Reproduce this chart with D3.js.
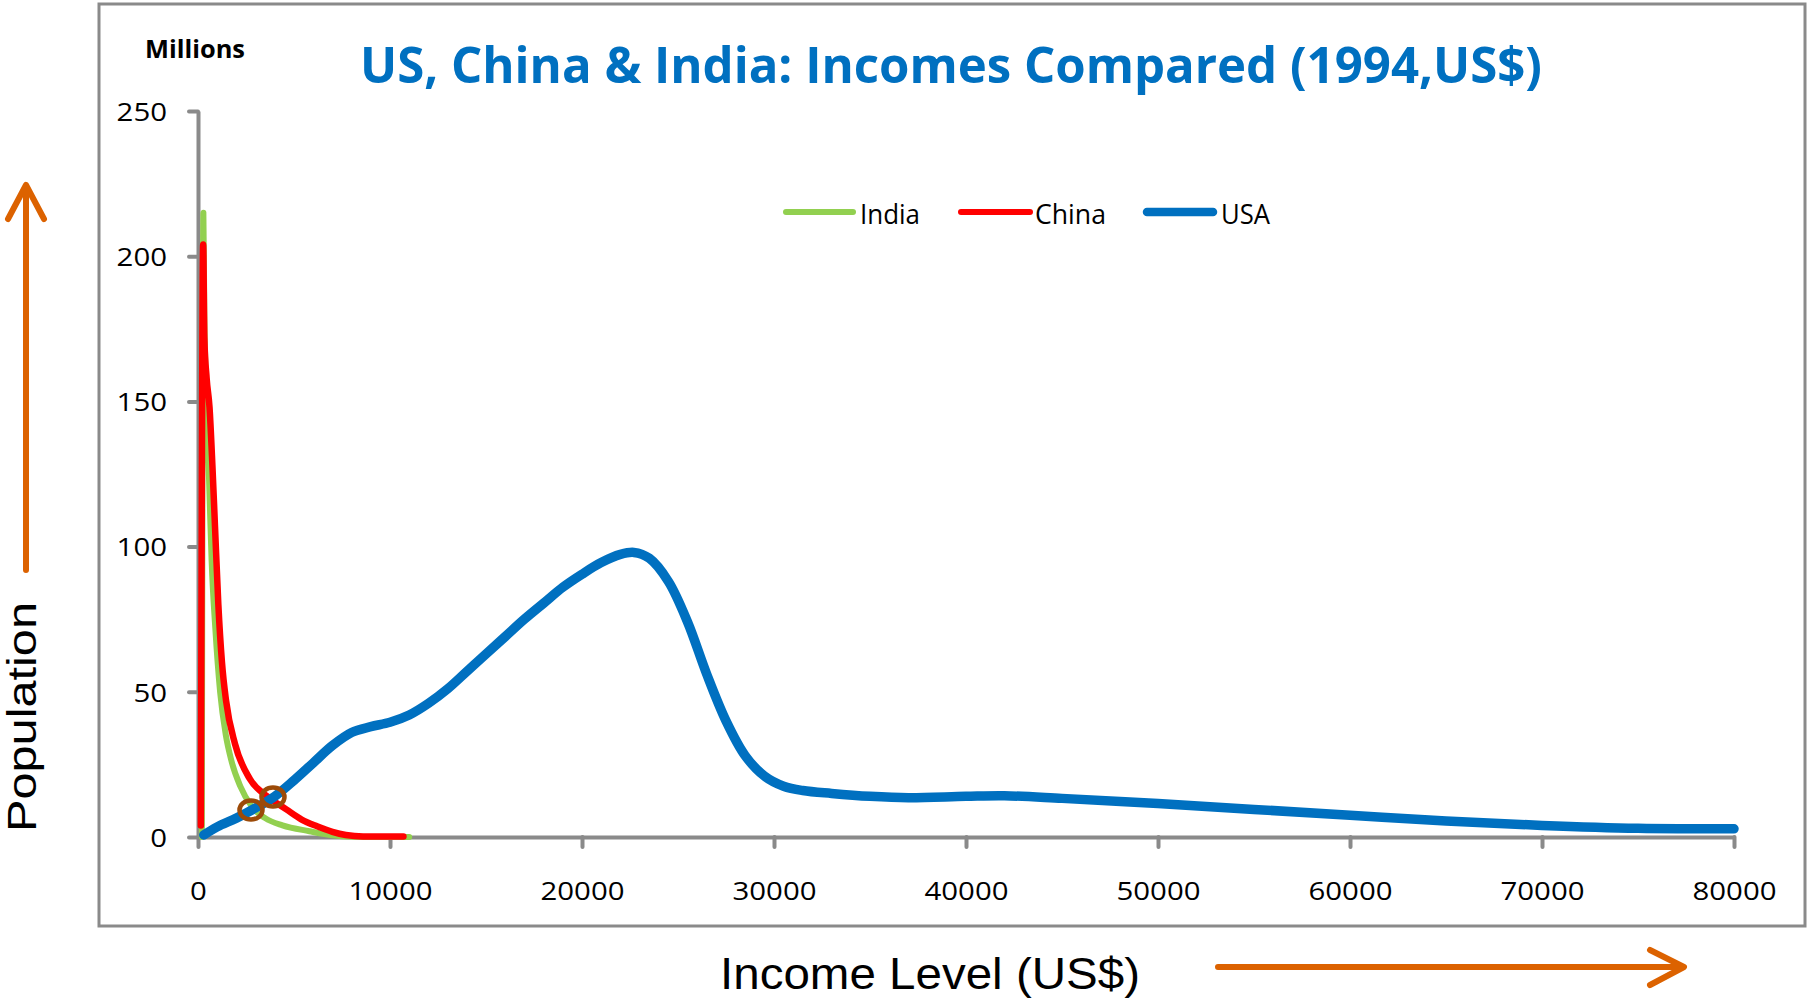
<!DOCTYPE html>
<html>
<head>
<meta charset="utf-8">
<script src="https://cdn.jsdelivr.net/npm/d3@7"></script>
<style>
  html, body { margin: 0; padding: 0; background: #ffffff; }
  svg { display: block; }
</style>
</head>
<body>
<svg id="chart" width="1807" height="1002"></svg>
<script>
// Income distribution curves: [income US$, population in millions]
const india = [[200,0],[280,215],[330,180],[450,150],[600,118],[710,95],[900,72],[1150,50],[1450,35],[1750,26],[2200,17.5],[2800,10.5],[3500,6.5],[4400,4],[5800,2],[7000,0.6],[8000,0.1],[9500,0],[11000,0]];
const china = [[150,4],[270,204],[330,172],[450,158],[600,148],[750,128],[885,107],[1060,80],[1250,60],[1460,47],[1930,32],[2700,20],[3600,14],[4600,9.5],[5400,6],[6200,3.7],[7000,1.8],[7700,0.7],[8600,0.2],[10700,0.2]];
const usa = [[300,0.7],[1000,3.5],[2000,6.5],[3000,10],[4000,14],[5000,19.5],[6000,25.5],[7000,31.5],[8000,36],[9000,38],[10000,39.5],[11000,42],[12000,46],[13000,51],[14000,57],[15000,63],[16000,69],[17000,75],[18000,80.5],[19000,86],[20000,90.5],[21000,94.5],[22000,97.3],[22700,98],[23500,96],[24500,88],[25500,74],[26500,56],[27500,40],[28500,28],[29500,21],[30500,17.5],[31500,16],[33000,15],[35000,14],[37000,13.5],[40000,14],[42000,14.2],[45000,13.3],[50000,11.5],[55000,9.5],[60000,7.5],[65000,5.5],[70000,4],[75000,3],[80000,2.8]];

// Crossing points highlighted with rings
const crossings = [[2760, 9.3], [3906, 13.8]];

const seriesNames = ["India", "China", "USA"];
const seriesColors = ["#92D050", "#FF0000", "#0070C0"];
const xTicks = [0, 10000, 20000, 30000, 40000, 50000, 60000, 70000, 80000];
const yTicks = [0, 50, 100, 150, 200, 250];

const titleText = "US, China & India: Incomes Compared (1994,US$)";
const unitText = "Millions";
const xAxisTitle = "Income Level (US$)";
const yAxisTitle = "Population";

const svg = d3.select("#chart");
const axisGray = "#8a8a8a";
const orange = "#DC6200";
const tickFont = "'Open Sans', 'Noto Sans', sans-serif";

const x = d3.scaleLinear().domain([0, 80000]).range([198, 1734]);
const y = d3.scaleLinear().domain([0, 250]).range([837, 111]);

// stretch text horizontally to a set width
function fitWidth(sel, w) {
  sel.attr("textLength", w).attr("lengthAdjust", "spacingAndGlyphs");
}
function widen(sel, k) {
  sel.each(function () {
    const len = this.getComputedTextLength();
    d3.select(this).attr("textLength", len * k).attr("lengthAdjust", "spacingAndGlyphs");
  });
}

// outer frame
svg.append("rect")
  .attr("x", 99).attr("y", 4).attr("width", 1706).attr("height", 922)
  .attr("fill", "none").attr("stroke", axisGray).attr("stroke-width", 3);

// y axis
const gy = svg.append("g").attr("transform", `translate(${x(0)},0)`)
  .call(d3.axisLeft(y).tickValues(yTicks).tickSize(9).tickSizeOuter(0).tickPadding(22));
gy.select(".domain").attr("stroke", axisGray).attr("stroke-width", 4);
gy.selectAll(".tick line").attr("stroke", axisGray).attr("stroke-width", 4).attr("stroke-linecap", "round");
gy.selectAll(".tick text")
  .attr("font-family", tickFont).attr("font-size", 26).attr("fill", "#000")
  .attr("dy", "0.36em")
  .call(widen, 1.13);

// x axis
const gx = svg.append("g").attr("transform", `translate(0,${y(0)})`)
  .call(d3.axisBottom(x).tickValues(xTicks).tickSize(10).tickSizeOuter(0).tickFormat(d3.format("d")));
gx.select(".domain").attr("stroke", axisGray).attr("stroke-width", 4);
gx.selectAll(".tick line").attr("stroke", axisGray).attr("stroke-width", 4).attr("stroke-linecap", "round");
gx.selectAll(".tick text")
  .attr("font-family", tickFont).attr("font-size", 26).attr("fill", "#000")
  .attr("y", 63).attr("dy", null)
  .call(widen, 1.13);
gx.selectAll(".tick text").each(function () {
  // keep widened labels centred on their ticks
  const w = +d3.select(this).attr("textLength");
  d3.select(this).attr("text-anchor", "start").attr("x", -w / 2);
});

// curves: the sharp spikes keep a monotone curve, the broad USA hump a smooth spline
const spikeLine = d3.line().x(d => x(d[0])).y(d => y(d[1])).curve(d3.curveMonotoneX);
const smoothLine = d3.line().x(d => x(d[0])).y(d => y(d[1])).curve(d3.curveCatmullRom.alpha(0.5));
const allSeries = [india, china, usa];
const widths = [6, 6.5, 9.5];
allSeries.forEach((data, i) => {
  svg.append("path")
    .datum(data)
    .attr("d", i === 2 ? smoothLine : spikeLine)
    .attr("fill", "none")
    .attr("stroke", seriesColors[i])
    .attr("stroke-width", widths[i])
    .attr("stroke-linecap", "round")
    .attr("stroke-linejoin", "round");
});

// rings on crossings
svg.selectAll(".ring").data(crossings).enter().append("ellipse")
  .attr("class", "ring")
  .attr("cx", d => x(d[0])).attr("cy", d => y(d[1]))
  .attr("rx", 11.5).attr("ry", 9.5)
  .attr("fill", "none").attr("stroke", "#9C4A08").attr("stroke-width", 4.5);

// legend
const legendItems = [
  { x1: 786, x2: 853, tx: 860, tw: 60, sw: 6 },
  { x1: 961, x2: 1030, tx: 1035, tw: 71, sw: 6 },
  { x1: 1147, x2: 1213, tx: 1221, tw: 49, sw: 8.5 }
];
const lg = svg.append("g");
legendItems.forEach((it, i) => {
  lg.append("line")
    .attr("x1", it.x1).attr("x2", it.x2).attr("y1", 212).attr("y2", 212)
    .attr("stroke", seriesColors[i]).attr("stroke-width", it.sw).attr("stroke-linecap", "round");
  lg.append("text")
    .attr("x", it.tx).attr("y", 224)
    .attr("font-family", tickFont).attr("font-size", 28).attr("fill", "#000")
    .text(seriesNames[i])
    .call(fitWidth, it.tw);
});

// title and unit label
svg.append("text")
  .attr("x", 360).attr("y", 83)
  .attr("font-family", tickFont).attr("font-weight", 700).attr("font-size", 50)
  .attr("fill", "#0070C0")
  .text(titleText)
  .call(fitWidth, 1182);

svg.append("text")
  .attr("x", 145).attr("y", 58)
  .attr("font-family", tickFont).attr("font-weight", 700).attr("font-size", 25)
  .attr("fill", "#000")
  .text(unitText)
  .call(fitWidth, 100);

// axis titles
svg.append("text")
  .attr("x", 720).attr("y", 989)
  .attr("font-family", "'Liberation Sans', Arial, sans-serif").attr("font-size", 45)
  .attr("fill", "#000")
  .text(xAxisTitle)
  .call(fitWidth, 420);

svg.append("text")
  .attr("transform", "translate(36,832) rotate(-90)")
  .attr("x", 0).attr("y", 0)
  .attr("font-family", "'Liberation Sans', Arial, sans-serif").attr("font-size", 40)
  .attr("fill", "#000")
  .text(yAxisTitle)
  .call(fitWidth, 230);

// direction arrows
const arrows = svg.append("g")
  .attr("fill", "none").attr("stroke", orange).attr("stroke-width", 6)
  .attr("stroke-linecap", "round").attr("stroke-linejoin", "round");
arrows.append("path").attr("d", "M1218,967 L1683,967 M1650,950 L1684,967 L1650,985");
arrows.append("path").attr("d", "M26,570 L26,186 M8,219 L26,185 L44,219");
</script>
</body>
</html>
